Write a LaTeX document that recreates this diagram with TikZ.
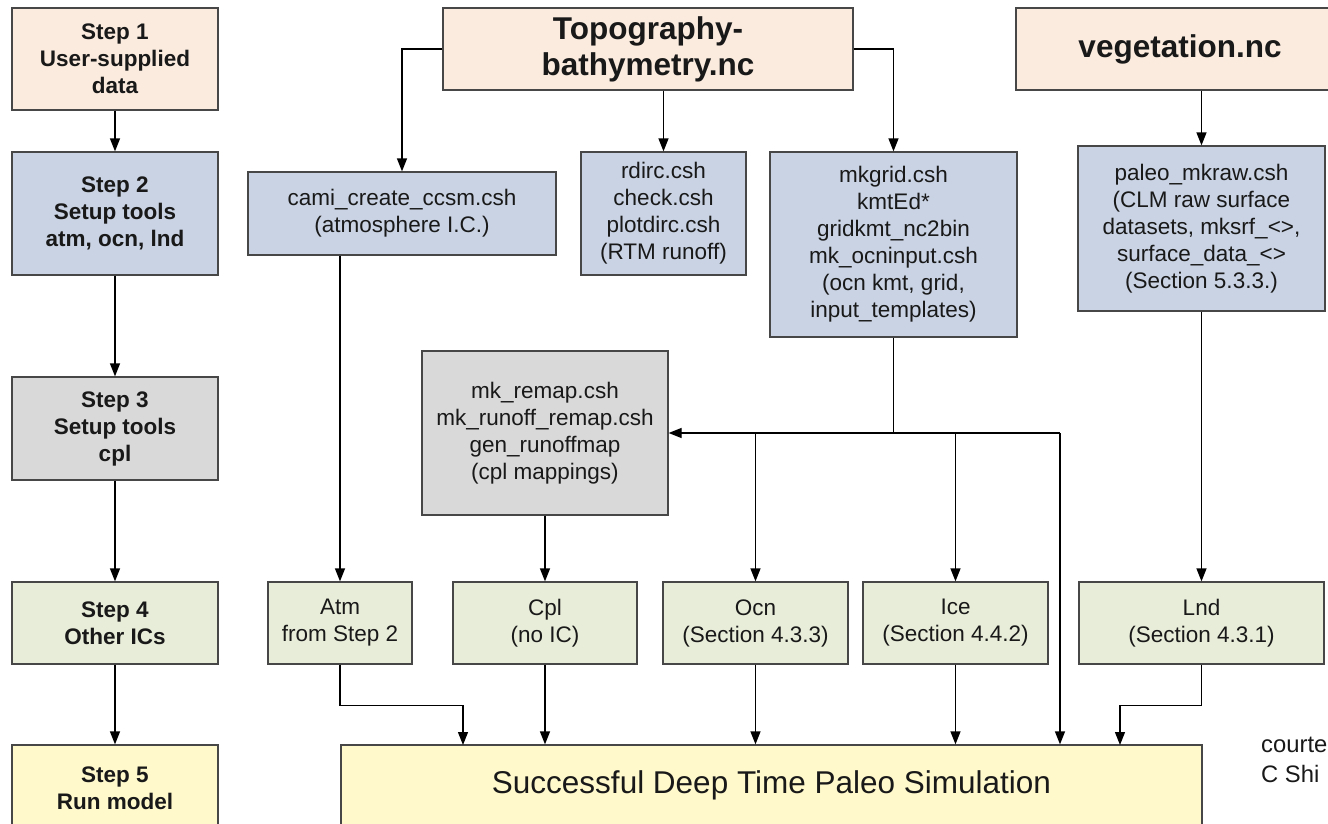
\documentclass[tikz,border=0pt]{standalone}
\usepackage{fontspec}
\setmainfont{Liberation Sans}
\usetikzlibrary{arrows.meta,calc}
\definecolor{cpeach}{HTML}{FAEBDE}
\definecolor{cblue}{HTML}{C9D3E3}
\definecolor{cgray}{HTML}{D9D9D9}
\definecolor{cgreen}{HTML}{E8EDD9}
\definecolor{cyellow}{HTML}{FFF9CC}
\begin{document}
\begin{tikzpicture}[x=1pt,y=-1pt,
  box/.style={draw=black!72, line width=1.3pt, align=center, inner sep=0pt, text=black!90, font=\fontsize{22.5}{27}\selectfont},
  stepbox/.style={box, font=\fontsize{22.5}{27}\selectfont\bfseries},
  bigbox/.style={box, font=\fontsize{31.5}{36}\selectfont\bfseries},
  credit/.style={anchor=base west, inner sep=0pt, font=\fontsize{23.8}{30}\selectfont, text=black!90},
  arr/.style={line width=1.3pt, -{Triangle[length=13pt,width=10pt]}},
  ln/.style={line width=1.3pt}]
\fill[white] (0,0) rectangle (1328,823);
\useasboundingbox (0,0) rectangle (1328,823);

% left column
\node[stepbox, fill=cpeach, minimum width=206pt, minimum height=102pt] (s1) at (115,59) {Step 1\\User-supplied\\data};
\node[stepbox, fill=cblue, minimum width=206pt, minimum height=123pt] (s2) at (115,213.5) {Step 2\\Setup tools\\atm, ocn, lnd};
\node[stepbox, fill=cgray, minimum width=206pt, minimum height=103pt] (s3) at (115,428.5) {Step 3\\Setup tools\\cpl};
\node[stepbox, fill=cgreen, minimum width=206pt, minimum height=82pt] (s4) at (115,623) {Step 4\\Other ICs};
\node[stepbox, fill=cyellow, minimum width=206pt, minimum height=86pt] (s5) at (115,788) {Step 5\\Run model};

\draw[arr] (s1) -- (s2);
\draw[arr] (s2) -- (s3);
\draw[arr] (s3) -- (s4);
\draw[arr] (s4) -- (s5);

% top inputs
\node[bigbox, fill=cpeach, minimum width=410pt, minimum height=82pt] (topo) at (648,49) {Topography-\\bathymetry.nc};
\node[bigbox, fill=cpeach, minimum width=328pt, minimum height=82pt] (veg) at (1180,49) {vegetation.nc};

% tools
\node[box, fill=cblue, minimum width=308pt, minimum height=83pt] (cami) at (402,213.5) {cami\_create\_ccsm.csh\\(atmosphere I.C.)};
\node[box, fill=cblue, minimum width=165pt, minimum height=123pt] (rdirc) at (663.5,213.5) {rdirc.csh\\check.csh\\plotdirc.csh\\(RTM runoff)};
\node[box, fill=cblue, minimum width=247pt, minimum height=185pt] (mkgrid) at (893.5,244.5) {mkgrid.csh\\kmtEd*\\gridkmt\_nc2bin\\mk\_ocninput.csh\\(ocn kmt, grid,\\input\_templates)};
\node[box, fill=cblue, minimum width=247pt, minimum height=165pt] (paleo) at (1201.5,228.5) {paleo\_mkraw.csh\\(CLM raw surface\\datasets, mksrf\_<>,\\surface\_data\_<>\\(Section 5.3.3.)};
\node[box, fill=cgray, minimum width=246pt, minimum height=164pt] (remap) at (545,433) {mk\_remap.csh\\mk\_runoff\_remap.csh\\gen\_runoffmap\\(cpl mappings)};

% ICs
\node[box, fill=cgreen, minimum width=144pt, minimum height=82pt] (atm) at (340,623) {Atm\\from Step 2};
\node[box, fill=cgreen, minimum width=184pt, minimum height=82pt] (cpl) at (545,623) {Cpl\\(no IC)};
\node[box, fill=cgreen, minimum width=185pt, minimum height=82pt] (ocn) at (755.5,623) {Ocn\\(Section 4.3.3)};
\node[box, fill=cgreen, minimum width=185pt, minimum height=82pt] (ice) at (955.5,623) {Ice\\(Section 4.4.2)};
\node[box, fill=cgreen, minimum width=245pt, minimum height=82pt] (lnd) at (1201.5,623) {Lnd\\(Section 4.3.1)};

% final
\node[box, fill=cyellow, minimum width=861pt, minimum height=80pt, font=\fontsize{31.5}{36}\selectfont] (succ) at (771.5,785) {Successful Deep Time Paleo Simulation};

% credit
\node[credit] (cr1) at (1261,752) {courte};
\node[credit] (cr2) at (1261,782) {C Shi};

% connectors from inputs
\draw[arr] (topo.west) -| (cami.north);
\draw[arr] (topo.south -| rdirc.north) -- (rdirc.north);
\draw[arr] (topo.east) -| (mkgrid.north);
\draw[arr] (veg.south -| paleo.north) -- (paleo.north);

% tools to ICs
\draw[arr] (cami.south -| atm.north) -- (atm.north);
\draw[arr] (remap) -- (cpl);
\draw[arr] (paleo) -- (lnd);

\coordinate (J) at (mkgrid.south |- remap.east);
\coordinate (R) at (1060,433);
\draw[arr] (mkgrid.south) -- (J) -- (remap.east);
\draw[ln] (J) -- (R);
\draw[arr] (ocn.north |- J) -- (ocn.north);
\draw[arr] (ice.north |- J) -- (ice.north);
\draw[arr] (R) -- (R |- succ.north);

% ICs to final
\coordinate (atmIn) at (463,745);
\coordinate (lndIn) at (1120,745);
\draw[arr] (atm.south) -- ++(0,41) -| (atmIn);
\draw[arr] (cpl.south) -- (cpl.south |- succ.north);
\draw[arr] (ocn.south) -- (ocn.south |- succ.north);
\draw[arr] (ice.south) -- (ice.south |- succ.north);
\draw[arr] (lnd.south) -- ++(0,41) -| (lndIn);
\end{tikzpicture}
\end{document}
